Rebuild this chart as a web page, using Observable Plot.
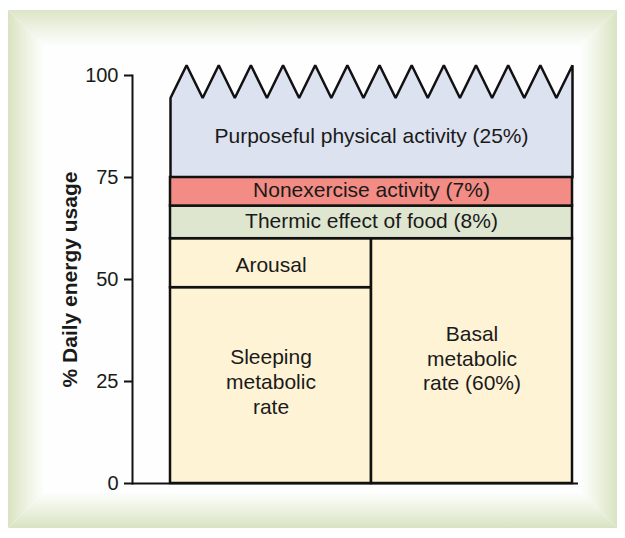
<!DOCTYPE html>
<html>
<head>
<meta charset="utf-8">
<script src="https://cdn.jsdelivr.net/npm/d3@7"></script>
<script src="https://cdn.jsdelivr.net/npm/@observablehq/plot@0.6"></script>
<style>
  html, body { margin: 0; padding: 0; background: #ffffff; }
  #wrap { position: relative; width: 625px; height: 538px; overflow: hidden; background: #ffffff; }
  #frame { position: absolute; left: 8px; top: 10px; width: 609px; height: 518px; background: #fdfefd; }
  .edge { position: absolute; }
  .top { left: 0; top: 0; width: 100%; height: 36px;
    background: linear-gradient(to bottom, #dce5c8, #eff3e6 55%, #fdfefd);
    clip-path: polygon(0 0, 100% 0, calc(100% - 36px) 100%, 36px 100%); }
  .bottom { left: 0; bottom: 0; width: 100%; height: 36px;
    background: linear-gradient(to top, #d9e3c2, #eef3e4 55%, #fdfefd);
    clip-path: polygon(36px 0, calc(100% - 36px) 0, 100% 100%, 0 100%); }
  .left { left: 0; top: 0; width: 36px; height: 100%;
    background: linear-gradient(to right, #d9e3c2, #eef3e4 55%, #fdfefd);
    clip-path: polygon(0 0, 100% 36px, 100% calc(100% - 36px), 0 100%); }
  .right { right: 0; top: 0; width: 36px; height: 100%;
    background: linear-gradient(to left, #d9e3c2, #eef3e4 55%, #fdfefd);
    clip-path: polygon(0 36px, 100% 0, 100% 100%, 0 calc(100% - 36px)); }
  #chart { position: absolute; left: 0; top: 0; }
</style>
</head>
<body>
<div id="wrap">
  <div id="frame">
    <div class="edge top"></div>
    <div class="edge bottom"></div>
    <div class="edge left"></div>
    <div class="edge right"></div>
  </div>
  <div id="chart"></div>
</div>
<script>
// ---- data ----
const segmentLabels = ["Sleeping\nmetabolic\nrate", "Arousal", "Basal\nmetabolic\nrate (60%)", "Thermic effect of food (8%)", "Nonexercise activity (7%)"];
const segmentGroups = ["bmr", "bmr", "bmr", "tef", "neat"];
const segmentBottom = [0, 48, 0, 60, 68];
const segmentTop = [48, 60, 60, 68, 75];
const segmentColStart = [0, 0, 1, 0, 0];
const segmentColEnd = [1, 1, 2, 2, 2];
const segmentLabelValue = [25.1, 53.8, 30.8, 64.6, 72.2];

const purposefulLabel = "Purposeful physical activity (25%)";
const purposefulBottom = 75;
const purposefulLabelValue = 85.2;
// broken (zig-zag) top of the open-ended 25% block
const breakX = [0, 0.08, 0.16, 0.24, 0.32, 0.40, 0.48, 0.56, 0.64, 0.72, 0.80, 0.88, 0.96,
                1.04, 1.12, 1.20, 1.28, 1.36, 1.44, 1.52, 1.60, 1.68, 1.76, 1.84, 1.92, 2.00];
const breakY = [94.5, 102.5, 94.5, 102.5, 94.5, 102.5, 94.5, 102.5, 94.5, 102.5, 94.5, 102.5, 94.5,
                102.5, 94.5, 102.5, 94.5, 102.5, 94.5, 102.5, 94.5, 102.5, 94.5, 102.5, 94.5, 102.5];

const yTicks = [0, 25, 50, 75, 100];
const yLabel = "% Daily energy usage";

// ---- build tables ----
const segments = segmentLabels.map((label, i) => ({
  label, group: segmentGroups[i],
  y1: segmentBottom[i], y2: segmentTop[i],
  x1: segmentColStart[i], x2: segmentColEnd[i],
  ly: segmentLabelValue[i]
}));
const zig = breakX.map((x, i) => ({x, y: breakY[i]}));
const outline = [{x: breakX[0], y: purposefulBottom}, ...zig, {x: breakX[breakX.length - 1], y: purposefulBottom}];

const font = "'Liberation Sans', Arial, Helvetica, sans-serif";
const ink = "#1a1a1a";

const chart = Plot.plot({
  width: 625,
  height: 538,
  marginTop: 75,
  marginBottom: 55,
  marginLeft: 132,
  marginRight: 47,
  style: {background: "transparent", fontFamily: font, color: ink, overflow: "visible"},
  x: {domain: [0, 2], range: [170, 572], axis: null},
  y: {domain: [0, 100], axis: null},
  color: {domain: ["bmr", "tef", "neat"], range: ["#fff3d6", "#dee6d0", "#f28c84"]},
  marks: [
    Plot.areaY(zig, {x: "x", y1: purposefulBottom, y2: "y", fill: "#dde2f0", curve: "linear"}),
    Plot.line(outline, {x: "x", y: "y", stroke: "#111", strokeWidth: 2.5, strokeLinejoin: "miter", curve: "linear"}),
    Plot.rect(segments, {x1: "x1", x2: "x2", y1: "y1", y2: "y2", fill: "group", stroke: "#111", strokeWidth: 2.5}),
    Plot.text(segments, {x: d => (d.x1 + d.x2) / 2, y: "ly", text: "label",
      fontSize: 21, lineHeight: 1.17, fill: ink}),
    Plot.text([purposefulLabel], {x: () => 1, y: () => purposefulLabelValue, text: d => d, fontSize: 21, fill: ink}),
    Plot.ruleY([0], {stroke: "#111", strokeWidth: 2}),
    Plot.frame({anchor: "left", stroke: "#111", strokeWidth: 2}),
    Plot.axisY({ticks: yTicks, tickSize: 8, tickPadding: 6, fontSize: 20, stroke: "#111", strokeWidth: 2, fill: ink, label: null}),
    Plot.text([yLabel], {frameAnchor: "left", textAnchor: "middle", lineAnchor: "middle", rotate: -90, dx: -62,
      text: d => d, fontSize: 21, fontWeight: "bold", fill: ink})
  ]
});
document.getElementById("chart").appendChild(chart);
</script>
</body>
</html>
